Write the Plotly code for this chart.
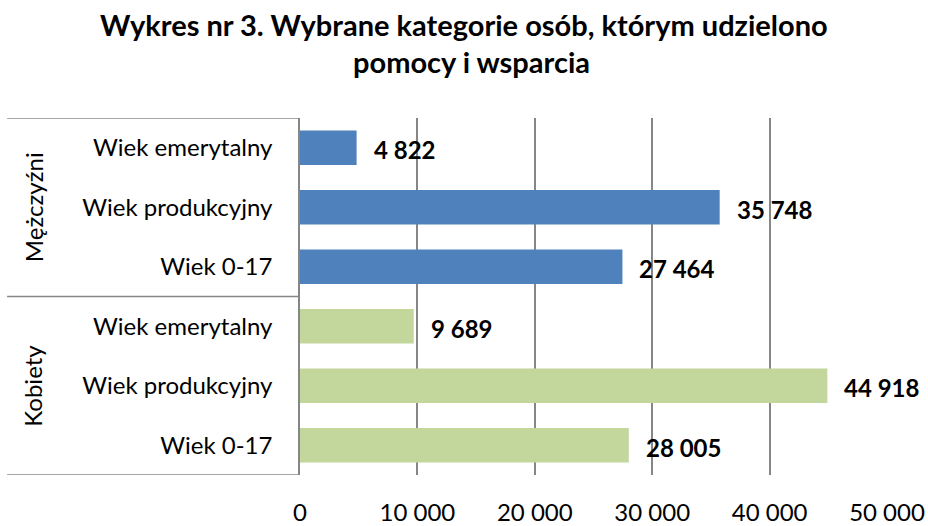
import plotly.graph_objects as go

# data (top to bottom as in the chart)
title_lines = ["Wykres nr 3. Wybrane kategorie osób, którym udzielono", "pomocy i wsparcia"]
groups = ["Mężczyźni", "Kobiety"]
age_groups = ["Wiek emerytalny", "Wiek produkcyjny", "Wiek 0-17"]
men = [4822, 35748, 27464]
women = [9689, 44918, 28005]
group_colors = ["#4F81BD", "#C3D69B"]

FONT = "Lato"
GRID = "#868686"

fig = go.Figure()

values_by_group = [men, women]
pos = 0
for g, (name, vals) in enumerate(zip(groups, values_by_group)):
    ys = list(range(pos, pos + len(vals)))
    fig.add_trace(go.Bar(
        x=vals, y=ys, orientation="h", name=name,
        marker=dict(color=group_colors[g], line=dict(width=0)),
        width=0.58, showlegend=False,
    ))
    for v, y in zip(vals, ys):
        fig.add_annotation(
            x=v, y=y, xref="x", yref="y", text="<b>{}</b>".format(f"{v:,}".replace(",", " ")),
            showarrow=False, xanchor="left", xshift=15, yshift=-2,
            font=dict(family=FONT, size=24, color="black"),
        )
    # group label, rotated
    fig.add_annotation(
        x=-0.455, y=(ys[0] + ys[-1]) / 2, xref="paper", yref="y", text=name,
        xanchor="center", yanchor="middle",
        textangle=-90, showarrow=False, font=dict(family=FONT, size=24, color="black"),
    )
    pos += len(vals)

# bracket lines of the category axis
n = pos
for b in [-0.5, len(men) - 0.5, n - 0.5]:
    fig.add_shape(type="line", xref="paper", yref="y", x0=-0.499, x1=0, y0=b, y1=b,
                  line=dict(color=GRID, width=1.5))

# title as two lines (line spacing as in the original)
for line, tx, ty in zip(title_lines, [0.279, 0.293], [1.263, 1.157]):
    fig.add_annotation(
        x=tx, y=ty, xref="paper", yref="paper", text="<b>{}</b>".format(line),
        xanchor="center", yanchor="middle", showarrow=False,
        font=dict(family=FONT, size=29, color="black"),
    )

ticks = list(range(n))
ticktext = age_groups + age_groups

fig.update_layout(
    width=928, height=526,
    margin=dict(l=300, r=41, t=118, b=51, autoexpand=False),
    paper_bgcolor="white", plot_bgcolor="white",
    separators=", ",
    font=dict(family=FONT, size=24, color="black"),
    bargap=0.42,
)
fig.update_xaxes(
    range=[0, 50000], dtick=10000, tickformat=",d",
    showgrid=True, gridcolor=GRID, gridwidth=1.5,
    zeroline=False, showline=False, ticks="", ticklabelstandoff=21,
    tickfont=dict(family=FONT, size=24, color="black"),
)
fig.update_yaxes(
    tickmode="array", tickvals=ticks, ticktext=ticktext,
    range=[n - 0.5, -0.5], showgrid=False, zeroline=False,
    showline=True, linecolor=GRID, linewidth=1.5, ticks="", ticklabelstandoff=21,
    tickfont=dict(family=FONT, size=24, color="black"),
)

# drop the default page margin so the figure fills the window exactly
fig.write_html("out.html", config={"displayModeBar": False},
               post_script="document.body.style.margin='0';document.body.style.overflow='hidden';")
